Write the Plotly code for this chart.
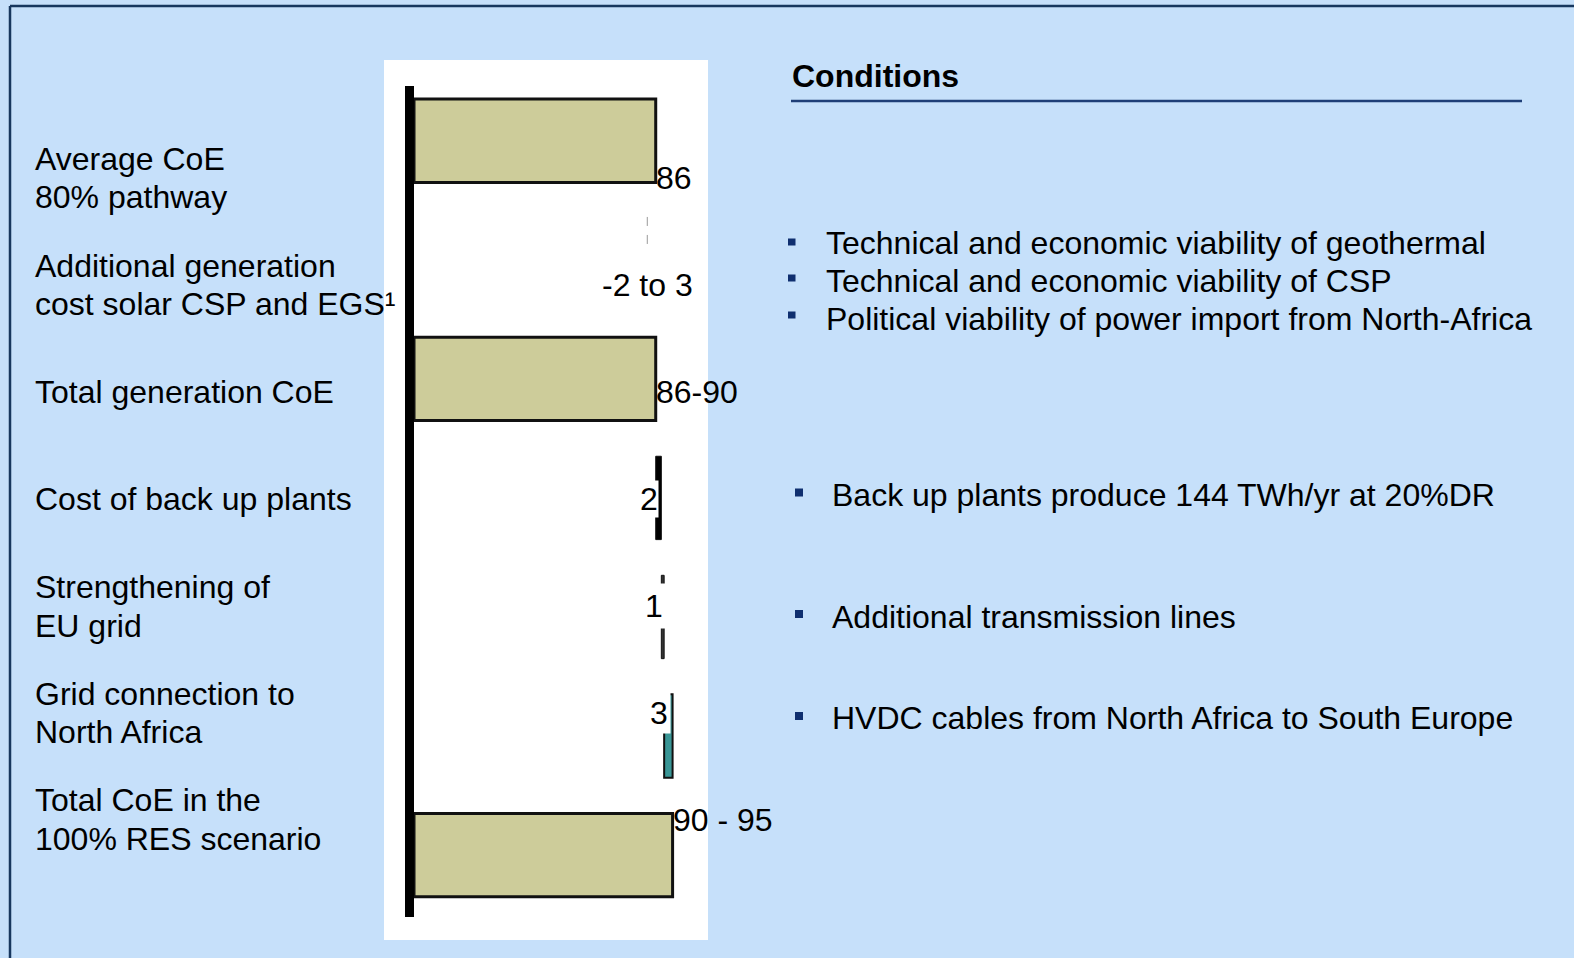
import plotly.graph_objects as go

# ---------------- data ----------------
categories = [
    "Average CoE 80% pathway",
    "Additional generation cost solar CSP and EGS",
    "Total generation CoE",
    "Cost of back up plants",
    "Strengthening of EU grid",
    "Grid connection to North Africa",
    "Total CoE in the 100% RES scenario",
]
label_lines = [
    ["Average CoE", "80% pathway"],
    ["Additional generation", "cost solar CSP and EGS¹"],
    ["Total generation CoE"],
    ["Cost of back up plants"],
    ["Strengthening of", "EU grid"],
    ["Grid connection to", "North Africa"],
    ["Total CoE in the", "100% RES scenario"],
]
bar_base = [0, 0, 0, 86, 88, 89, 0]
bar_length = [86, 0, 86, 2, 1, 3, 92]
value_labels = ["86", "-2 to 3", "86-90", "2", "1", "3", "90 - 95"]
csp_marker_value = 83

conditions_title = "Conditions"
conditions_top = [
    "Technical and economic viability of geothermal",
    "Technical and economic viability of CSP",
    "Political viability of power import from North-Africa",
]
conditions_rows = [
    "Back up plants produce 144 TWh/yr at 20%DR",
    "Additional transmission lines",
    "HVDC cables from North Africa to South Europe",
]

# ---------------- style / layout ----------------
W, H = 1574, 958
L, R, T, B = 414, 866, 86, 41
PW, PH = W - L - R, H - T - B
BG = "#C6E0FA"
FRAME = "#17375E"
FONT = "Liberation Sans, Arial, sans-serif"
FS = 32


def px(x):
    return (x - L) / PW


def py(y):
    return (H - B - y) / PH


khaki = "#CDCC9A"
bar_colors = [khaki, khaki, khaki, "#000000", "#333333", "#3A9696", khaki]
bar_line_w = [3, 0, 3, 1, 1, 2, 3]

fig = go.Figure()
fig.add_trace(go.Bar(
    y=categories, x=bar_length, base=bar_base, orientation="h",
    width=0.7,
    marker=dict(color=bar_colors, line=dict(color="#111111", width=bar_line_w)),
    hoverinfo="skip",
))

shapes = []
# white chart panel
shapes.append(dict(type="rect", xref="paper", yref="paper", layer="below",
                   x0=px(384), x1=px(708), y0=py(60), y1=py(940),
                   fillcolor="white", line=dict(width=0)))
# frame lines
shapes.append(dict(type="line", xref="paper", yref="paper",
                   x0=px(10), x1=px(1590), y0=py(6), y1=py(6),
                   line=dict(color=FRAME, width=2.5)))
shapes.append(dict(type="line", xref="paper", yref="paper",
                   x0=px(10), x1=px(10), y0=py(6), y1=py(980),
                   line=dict(color=FRAME, width=2.5)))
# conditions underline
shapes.append(dict(type="line", xref="paper", yref="paper",
                   x0=px(791), x1=px(1522), y0=py(101), y1=py(101),
                   line=dict(color="#1F3F77", width=2.5)))
# dashed marker for CSP/EGS range
shapes.append(dict(type="line", xref="x", yref="y",
                   x0=csp_marker_value, x1=csp_marker_value, y0=0.64, y1=0.88,
                   line=dict(color="#999999", width=1, dash="dash")))

annotations = []
# left labels
label_first_y = [158.7, 266.1, 391.6, 499.1, 587.4, 693.9, 800.3]
for lines, y0 in zip(label_lines, label_first_y):
    for i, ln in enumerate(lines):
        annotations.append(dict(
            xref="paper", yref="paper", x=px(33), y=py(y0 + i * 38.2),
            text=ln, showarrow=False, xanchor="left", yanchor="middle",
            font=dict(family=FONT, size=FS, color="black")))

# value labels (anchored at value positions through the axes)
label_x = [86, csp_marker_value, 86, 88, 89, 92, 92]
label_anchor = ["left", "center", "left", "right", "right", "right", "left"]
label_xshift = [-1, 0, -1, -2, 4, -2, -1]
label_yshift = [-37, -25, -13, -1, 11, 23, 35]
label_bg = [None, None, None, "white", "white", "white", None]
label_pad = [0, 0, 0, 0, 4, 2, 0]
for i, txt in enumerate(value_labels):
    a = dict(xref="x", yref="y", x=label_x[i], y=i, text=txt, showarrow=False,
             xanchor=label_anchor[i], yanchor="middle",
             xshift=label_xshift[i], yshift=label_yshift[i],
             font=dict(family=FONT, size=FS, color="black"), borderpad=label_pad[i])
    if label_bg[i]:
        a["bgcolor"] = label_bg[i]
    annotations.append(a)

# conditions title
annotations.append(dict(xref="paper", yref="paper", x=px(790), y=py(75.5),
                        text="<b>" + conditions_title + "</b>", showarrow=False,
                        xanchor="left", yanchor="middle",
                        font=dict(family=FONT, size=FS, color="black")))

# bullets
top_text_y = [243, 281, 319]
top_bullet_y = [242, 278, 315]
for txt, y, yb in zip(conditions_top, top_text_y, top_bullet_y):
    shapes.append(dict(type="rect", xref="paper", yref="paper",
                       x0=px(788), x1=px(795.5), y0=py(yb - 3.5), y1=py(yb + 3.5),
                       fillcolor="#0F2F6F", line=dict(width=0)))
    annotations.append(dict(xref="paper", yref="paper", x=px(824), y=py(y),
                            text=txt, showarrow=False, xanchor="left", yanchor="middle",
                            font=dict(family=FONT, size=FS, color="black")))
row_text_y = [495, 616.5, 718]
row_bullet_y = [492.5, 614, 716]
for txt, y, yb in zip(conditions_rows, row_text_y, row_bullet_y):
    shapes.append(dict(type="rect", xref="paper", yref="paper",
                       x0=px(795), x1=px(803), y0=py(yb - 4), y1=py(yb + 4),
                       fillcolor="#0F2F6F", line=dict(width=0)))
    annotations.append(dict(xref="paper", yref="paper", x=px(830), y=py(y),
                            text=txt, showarrow=False, xanchor="left", yanchor="middle",
                            font=dict(family=FONT, size=FS, color="black")))

fig.update_layout(
    width=W, height=H,
    margin=dict(l=L, r=R, t=T, b=B, pad=0),
    paper_bgcolor=BG, plot_bgcolor="white",
    showlegend=False,
    shapes=shapes, annotations=annotations,
    font=dict(family=FONT, size=FS, color="black"),
    bargap=0.3,
)
fig.update_xaxes(range=[0, 104.6], visible=False, fixedrange=True)
fig.update_yaxes(type="category", categoryorder="array", categoryarray=categories,
                 range=[6.52, -0.46], showline=True, linewidth=9, linecolor="black",
                 showticklabels=False, ticks="", showgrid=False, zeroline=False,
                 fixedrange=True)

fig.write_html("out.html", config={"displayModeBar": False},
               post_script="document.body.style.margin='0px';"
                           "document.body.style.overflow='hidden';")
